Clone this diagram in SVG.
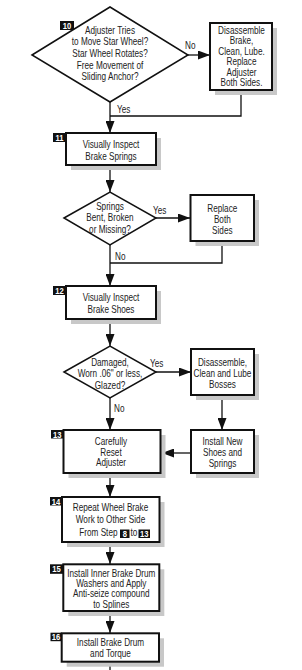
<svg xmlns="http://www.w3.org/2000/svg" width="302" height="670" viewBox="0 0 302 670">
<style>
.bg{fill:#fff}
.box{fill:#fff;stroke:#111;stroke-width:2}
.sh{fill:#c8c8c8}
.dia{fill:#fff;stroke:#111;stroke-width:1.5}
.t{font-family:"Liberation Sans",Arial,sans-serif;font-size:10px;fill:#222;text-anchor:middle}
.lb{font-family:"Liberation Sans",Arial,sans-serif;font-size:10px;fill:#222}
.bd{fill:#111}
.bt{font-family:"Liberation Sans",Arial,sans-serif;font-size:9px;font-weight:bold;fill:#fff;text-anchor:middle}
.ln{fill:none;stroke:#111;stroke-width:1.3}
</style>
<defs>
<marker id="ah" markerUnits="userSpaceOnUse" markerWidth="12" markerHeight="9" refX="12" refY="4.5" orient="auto">
<path d="M0,0 L12,4.5 L0,9 z" fill="#111"/>
</marker>
</defs>
<rect class="bg" x="0" y="0" width="302" height="670"/>

<g id="connectors">
<line class="ln" x1="188" y1="55" x2="210" y2="55" marker-end="url(#ah)"/>
<polyline class="ln" points="241,90 241,116 110,116"/>
<line class="ln" x1="110" y1="102" x2="110" y2="133" marker-end="url(#ah)"/>
<line class="ln" x1="110" y1="165" x2="110" y2="192" marker-end="url(#ah)"/>
<line class="ln" x1="156" y1="218" x2="190" y2="218" marker-end="url(#ah)"/>
<polyline class="ln" points="222,241 222,263 110,263"/>
<line class="ln" x1="110" y1="245" x2="110" y2="286" marker-end="url(#ah)"/>
<line class="ln" x1="110" y1="319" x2="110" y2="346" marker-end="url(#ah)"/>
<line class="ln" x1="156" y1="372" x2="191" y2="372" marker-end="url(#ah)"/>
<line class="ln" x1="110" y1="398" x2="110" y2="430" marker-end="url(#ah)"/>
<line class="ln" x1="222" y1="395" x2="222" y2="430" marker-end="url(#ah)"/>
<line class="ln" x1="191" y1="453" x2="162" y2="453" marker-end="url(#ah)"/>
<line class="ln" x1="110" y1="473" x2="110" y2="497" marker-end="url(#ah)"/>
<line class="ln" x1="110" y1="542" x2="110" y2="564" marker-end="url(#ah)"/>
<line class="ln" x1="110" y1="611" x2="110" y2="633" marker-end="url(#ah)"/>
<line class="ln" x1="110" y1="662" x2="110" y2="670"/>
<g id="labels">
<text class="lb" transform="translate(185 49) scale(0.82 1)">No</text>
<text class="lb" transform="translate(117 113) scale(0.82 1)">Yes</text>
<text class="lb" transform="translate(153 214) scale(0.82 1)">Yes</text>
<text class="lb" transform="translate(115 259.5) scale(0.82 1)">No</text>
<text class="lb" transform="translate(150 367) scale(0.82 1)">Yes</text>
<text class="lb" transform="translate(114 411.5) scale(0.82 1)">No</text>
</g>
</g>

<g id="step10">
<polygon class="dia" points="32,55 110,7 188,55 110,102"/>
<rect class="bd" x="60" y="21" width="14" height="9"/>
<text class="bt" transform="translate(67 28.8) scale(0.85 1)">10</text>
<text class="t" transform="translate(110 33.5) scale(0.82 1)">Adjuster Tries</text>
<text class="t" transform="translate(110 45.2) scale(0.82 1)">to Move Star Wheel?</text>
<text class="t" transform="translate(110 56.9) scale(0.82 1)">Star Wheel Rotates?</text>
<text class="t" transform="translate(110 68.6) scale(0.82 1)">Free Movement of</text>
<text class="t" transform="translate(110 80.3) scale(0.82 1)">Sliding Anchor?</text>
</g>

<g id="disassemble1">
<rect class="sh" x="215" y="28" width="62" height="67"/>
<rect class="box" x="210" y="23" width="62" height="67"/>
<text class="t" transform="translate(241.5 33.5) scale(0.82 1)">Disassemble</text>
<text class="t" transform="translate(241.5 44) scale(0.82 1)">Brake,</text>
<text class="t" transform="translate(241.5 54.5) scale(0.82 1)">Clean, Lube.</text>
<text class="t" transform="translate(241.5 65) scale(0.82 1)">Replace</text>
<text class="t" transform="translate(241.5 75.5) scale(0.82 1)">Adjuster</text>
<text class="t" transform="translate(241.5 86) scale(0.82 1)">Both Sides.</text>
</g>

<g id="step11">
<rect class="sh" x="71" y="138" width="90" height="32"/>
<rect class="box" x="66" y="133" width="90" height="32"/>
<rect class="bd" x="53" y="133" width="13" height="9"/>
<text class="bt" transform="translate(59.5 140.8) scale(0.85 1)">11</text>
<text class="t" transform="translate(111 148) scale(0.82 1)">Visually Inspect</text>
<text class="t" transform="translate(111 159.5) scale(0.82 1)">Brake Springs</text>
</g>

<g id="springsDecision">
<polygon class="dia" points="64,218 110,192 156,218 110,245"/>
<text class="t" transform="translate(110 209.5) scale(0.82 1)">Springs</text>
<text class="t" transform="translate(110 221) scale(0.82 1)">Bent, Broken</text>
<text class="t" transform="translate(110 232.5) scale(0.82 1)">or Missing?</text>
</g>

<g id="replaceBoth">
<rect class="sh" x="195.5" y="200" width="63.5" height="46"/>
<rect class="box" x="190.5" y="195" width="63.5" height="46"/>
<text class="t" transform="translate(222.3 211.5) scale(0.82 1)">Replace</text>
<text class="t" transform="translate(222.3 222.5) scale(0.82 1)">Both</text>
<text class="t" transform="translate(222.3 233.5) scale(0.82 1)">Sides</text>
</g>

<g id="step12">
<rect class="sh" x="71" y="291" width="90" height="33"/>
<rect class="box" x="66" y="286" width="90" height="33"/>
<rect class="bd" x="53" y="286" width="13" height="9"/>
<text class="bt" transform="translate(59.5 293.8) scale(0.85 1)">12</text>
<text class="t" transform="translate(111 300.5) scale(0.82 1)">Visually Inspect</text>
<text class="t" transform="translate(111 312.5) scale(0.82 1)">Brake Shoes</text>
</g>

<g id="shoesDecision">
<polygon class="dia" points="64,372 110,346 156,372 110,398"/>
<text class="t" transform="translate(110 365.5) scale(0.82 1)">Damaged,</text>
<text class="t" transform="translate(110 376.5) scale(0.82 1)">Worn .06" or less,</text>
<text class="t" transform="translate(110 388.5) scale(0.82 1)">Glazed?</text>
</g>

<g id="disassemble2">
<rect class="sh" x="196" y="354" width="63" height="46"/>
<rect class="box" x="191" y="349" width="63" height="46"/>
<text class="t" transform="translate(222.5 365.5) scale(0.82 1)">Disassemble,</text>
<text class="t" transform="translate(222.5 376.5) scale(0.82 1)">Clean and Lube</text>
<text class="t" transform="translate(222.5 387.5) scale(0.82 1)">Bosses</text>
</g>

<g id="step13">
<rect class="sh" x="68.5" y="435" width="97" height="43"/>
<rect class="box" x="63.5" y="430" width="97" height="43"/>
<rect class="bd" x="51" y="430" width="12.5" height="8.5"/>
<text class="bt" transform="translate(57.3 437.6) scale(0.85 1)">13</text>
<text class="t" transform="translate(111 444.5) scale(0.82 1)">Carefully</text>
<text class="t" transform="translate(111 455.5) scale(0.82 1)">Reset</text>
<text class="t" transform="translate(111 466) scale(0.82 1)">Adjuster</text>
</g>

<g id="installNew">
<rect class="sh" x="196" y="435" width="63" height="43"/>
<rect class="box" x="191" y="430" width="63" height="43"/>
<text class="t" transform="translate(222.5 444.5) scale(0.82 1)">Install New</text>
<text class="t" transform="translate(222.5 455.5) scale(0.82 1)">Shoes and</text>
<text class="t" transform="translate(222.5 466.5) scale(0.82 1)">Springs</text>
</g>

<g id="step14">
<rect class="sh" x="67" y="502" width="97.5" height="45"/>
<rect class="box" x="62" y="497" width="97.5" height="45"/>
<rect class="bd" x="50" y="497" width="12" height="8.5"/>
<text class="bt" transform="translate(56 504.6) scale(0.85 1)">14</text>
<text class="t" transform="translate(110.5 510.5) scale(0.82 1)">Repeat Wheel Brake</text>
<text class="t" transform="translate(110.5 523) scale(0.82 1)">Work to Other Side</text>
<text class="t" style="text-anchor:end" transform="translate(117.5 536) scale(0.82 1)">From Step</text>
<rect class="bd" x="120" y="529.5" width="9.5" height="8.5"/>
<text class="bt" transform="translate(124.8 537) scale(0.85 1)">8</text>
<text class="t" transform="translate(133.8 536) scale(0.82 1)">to</text>
<rect class="bd" x="138.5" y="529.5" width="11.5" height="8.5"/>
<text class="bt" transform="translate(144.3 537) scale(0.85 1)">13</text>
</g>

<g id="step15">
<rect class="sh" x="68.3" y="569.3" width="96" height="46.7"/>
<rect class="box" x="63.3" y="564.3" width="96" height="46.7"/>
<rect class="bd" x="50" y="564.3" width="13.3" height="9.5"/>
<text class="bt" transform="translate(56.6 572.4) scale(0.85 1)">15</text>
<text class="t" transform="translate(111.3 576.5) scale(0.82 1)">Install Inner Brake Drum</text>
<text class="t" transform="translate(111.3 586.8) scale(0.82 1)">Washers and Apply</text>
<text class="t" transform="translate(111.3 597.4) scale(0.82 1)">Anti-seize compound</text>
<text class="t" transform="translate(111.3 607.6) scale(0.82 1)">to Splines</text>
</g>

<g id="step16">
<rect class="sh" x="66.7" y="638.3" width="97.3" height="28.4"/>
<rect class="box" x="61.7" y="633.3" width="97.3" height="28.4"/>
<rect class="bd" x="50.5" y="632.7" width="11.2" height="8.5"/>
<text class="bt" transform="translate(56.1 640.2) scale(0.85 1)">16</text>
<text class="t" transform="translate(110.5 646) scale(0.82 1)">Install Brake Drum</text>
<text class="t" transform="translate(110.5 657.3) scale(0.82 1)">and Torque</text>
</g>
</svg>
